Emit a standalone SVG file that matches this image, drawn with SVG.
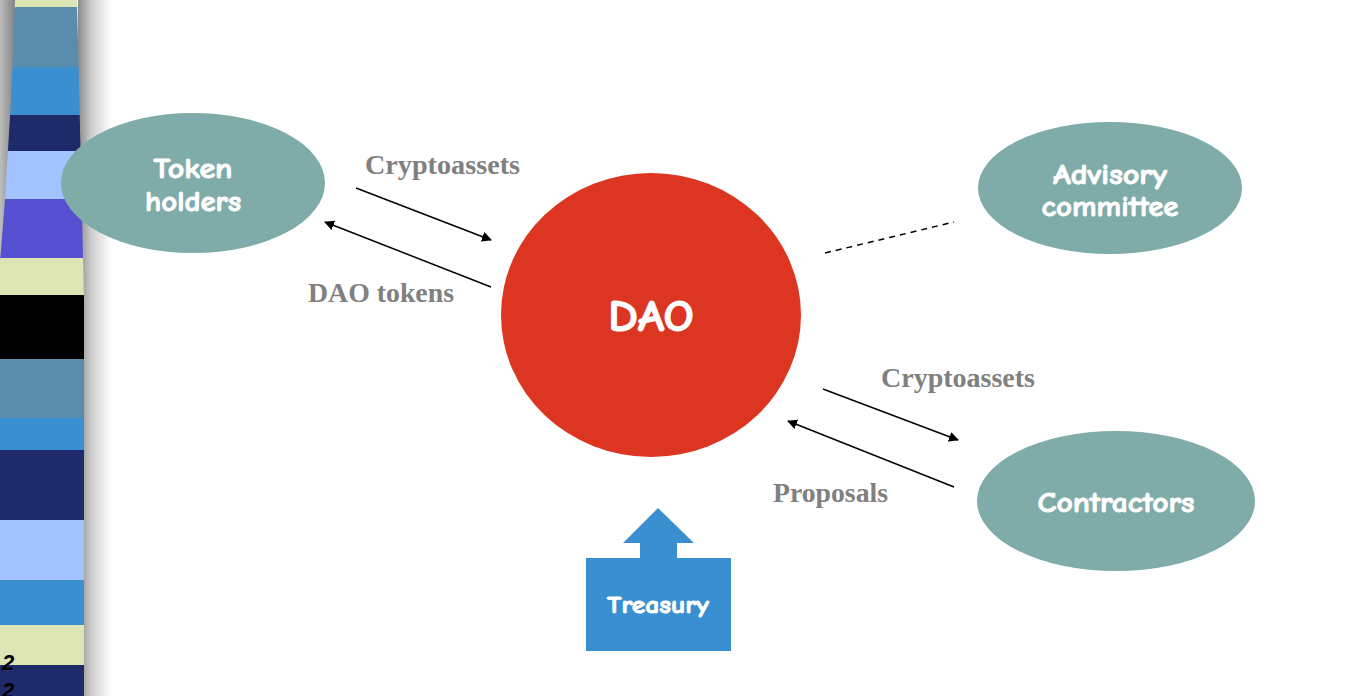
<svg xmlns="http://www.w3.org/2000/svg" width="1359" height="696" viewBox="0 0 1359 696">
<defs>
<style>
.node{fill:#7faba9}
.nt{font-family:"Comic Neue","Lato","Liberation Sans",sans-serif;font-weight:bold;fill:#ffffff;stroke:#ffffff;stroke-width:0.9;text-anchor:middle}
.lbl{font-family:"Liberation Serif",serif;font-weight:bold;fill:#808080;font-size:28px}
.ar{stroke:#000;stroke-width:1.5;fill:none;marker-end:url(#ah)}
</style>
<marker id="ah" viewBox="0 0 10 10" refX="9" refY="5" markerWidth="10" markerHeight="10" markerUnits="userSpaceOnUse" orient="auto">
<path d="M0,0 L10,5 L0,10 Z" fill="#000"/>
</marker>
<linearGradient id="sh" x1="0" x2="1" y1="0" y2="0">
<stop offset="0" stop-color="#8a8a8a"/>
<stop offset="0.4" stop-color="#cfcfcf"/>
<stop offset="1" stop-color="#ffffff"/>
</linearGradient>
<linearGradient id="shl" x1="0" x2="1" y1="0" y2="0">
<stop offset="0" stop-color="#bdbdbd"/>
<stop offset="1" stop-color="#777777"/>
</linearGradient>
<clipPath id="strip">
<polygon points="15,0 77,0 84,300 84,696 0,696 0,262 5,200 11,100"/>
</clipPath>
</defs>
<rect width="1359" height="696" fill="#ffffff"/>
<g id="decor">
<rect x="0" y="0" width="18" height="270" fill="url(#shl)"/>
<rect x="78" y="0" width="34" height="696" fill="url(#sh)"/>
<g clip-path="url(#strip)">
<rect x="0" y="0" width="90" height="8" fill="#dde5b5"/>
<rect x="0" y="7" width="90" height="61" fill="#5a8dab"/>
<rect x="0" y="67" width="90" height="49" fill="#3a8fd0"/>
<rect x="0" y="115" width="90" height="37" fill="#1f2a6b"/>
<rect x="0" y="151" width="90" height="50" fill="#a2c3ff"/>
<rect x="0" y="199" width="90" height="60" fill="#5550d2"/>
<rect x="0" y="258" width="90" height="38" fill="#dde5b5"/>
<rect x="0" y="295" width="90" height="66" fill="#000000"/>
<rect x="0" y="359" width="90" height="60" fill="#5a8dab"/>
<rect x="0" y="418" width="90" height="33" fill="#3a8fd0"/>
<rect x="0" y="450" width="90" height="71" fill="#1f2a6b"/>
<rect x="0" y="520" width="90" height="61" fill="#a2c3ff"/>
<rect x="0" y="580" width="90" height="46" fill="#3a8fd0"/>
<rect x="0" y="625" width="90" height="42" fill="#dde5b5"/>
<rect x="0" y="665" width="90" height="31" fill="#1f2a6b"/>
</g>
<text x="2" y="670" font-family="Liberation Sans,sans-serif" font-style="italic" font-weight="bold" font-size="22" fill="#000">2</text>
<text x="2" y="698" font-family="Liberation Sans,sans-serif" font-style="italic" font-weight="bold" font-size="22" fill="#000">2</text>
</g>
<g id="connectors">
<line class="ar" x1="356" y1="188" x2="491" y2="240"/>
<line class="ar" x1="491" y1="287" x2="325" y2="222"/>
<line x1="825" y1="253" x2="954" y2="222" stroke="#000" stroke-width="1.5" stroke-dasharray="6,5"/>
<line class="ar" x1="823" y1="389" x2="958" y2="440"/>
<line class="ar" x1="954" y1="487" x2="788" y2="421"/>
<text class="lbl" x="365" y="174" textLength="155" lengthAdjust="spacingAndGlyphs">Cryptoassets</text>
<text class="lbl" x="308" y="302" textLength="146" lengthAdjust="spacingAndGlyphs">DAO tokens</text>
<text class="lbl" x="881" y="387" textLength="154" lengthAdjust="spacingAndGlyphs">Cryptoassets</text>
<text class="lbl" x="773" y="502" textLength="115" lengthAdjust="spacingAndGlyphs">Proposals</text>
</g>
<g id="token-holders">
<ellipse class="node" cx="193" cy="183" rx="132" ry="70"/>
<text class="nt" x="193" y="178" font-size="29" textLength="79" lengthAdjust="spacingAndGlyphs">Token</text>
<text class="nt" x="193" y="211" font-size="29" textLength="96" lengthAdjust="spacingAndGlyphs">holders</text>
</g>
<g id="advisory-committee">
<ellipse class="node" cx="1110" cy="188" rx="132" ry="66"/>
<text class="nt" x="1110" y="184" font-size="29" textLength="114" lengthAdjust="spacingAndGlyphs">Advisory</text>
<text class="nt" x="1110" y="216" font-size="29" textLength="137" lengthAdjust="spacingAndGlyphs">committee</text>
</g>
<g id="contractors">
<ellipse class="node" cx="1116" cy="501" rx="139" ry="70"/>
<text class="nt" x="1116" y="512" font-size="29" textLength="157" lengthAdjust="spacingAndGlyphs">Contractors</text>
</g>
<g id="dao">
<ellipse cx="651" cy="315" rx="150" ry="142" fill="#dc3522"/>
<text class="nt" x="651" y="331" font-size="45" stroke-width="1.2" textLength="86" lengthAdjust="spacingAndGlyphs">DAO</text>
</g>
<g id="treasury">
<polygon points="586,558 640,558 640,543 623,543 658,508 694,543 677,543 677,558 731,558 731,651 586,651" fill="#3a8fd0"/>
<text class="nt" x="658" y="613" font-size="25" textLength="102" lengthAdjust="spacingAndGlyphs">Treasury</text>
</g>
</svg>
